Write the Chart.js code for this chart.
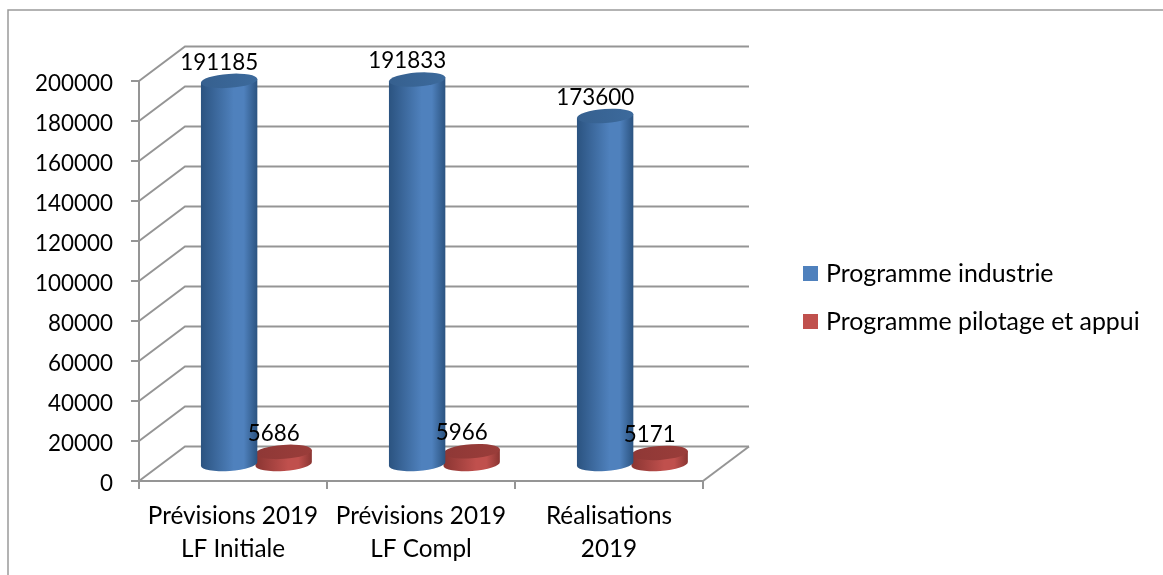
<!DOCTYPE html>
<html>
<head>
<meta charset="utf-8">
<style>html,body{margin:0;padding:0;background:#fff}canvas{display:block}</style>
<script src="https://cdn.jsdelivr.net/npm/chart.js@4/dist/chart.umd.min.js"></script>
</head>
<body>
<canvas id="c" width="1163" height="575"></canvas>
<script>
const categories = [["Prévisions 2019","LF Initiale"],["Prévisions 2019","LF Compl"],["Réalisations","2019"]];
const programmeIndustrie = [191185,191833,173600];
const programmePilotage = [5686,5966,5171];
const seriesNames = ["Programme industrie","Programme pilotage et appui"];
const seriesColors = ["#4f81bd","#c0504d"];
const edgeColors = ["#2b5380","#8a3532"];
const capColors = [["#36608f","#3c6a9c"],["#8f3836","#9a3d3a"]];

const FONT = "22.4px Lato";
const LEGEND_FONT = "24.9px Lato";
const GRID = "#959595";
const DEPTH_X = 46, DEPTH_Y = 34.5;
const TILT = -0.07;

function cylinder(ctx, cx, top, bottom, rx, ry, i){
  const dx = rx*Math.cos(TILT), dy = rx*Math.sin(TILT);
  const g = ctx.createLinearGradient(cx-rx,0,cx+rx,0);
  g.addColorStop(0, edgeColors[i]);
  g.addColorStop(0.58, seriesColors[i]);
  g.addColorStop(0.76, seriesColors[i]);
  g.addColorStop(1, edgeColors[i]);
  ctx.beginPath();
  ctx.moveTo(cx+dx, top+dy);
  ctx.lineTo(cx+dx, bottom+dy);
  ctx.ellipse(cx, bottom, rx, ry, TILT, 0, Math.PI);
  ctx.lineTo(cx-dx, top-dy);
  ctx.closePath();
  ctx.fillStyle = g; ctx.fill();
  const c = ctx.createLinearGradient(cx-rx,0,cx+rx,0);
  c.addColorStop(0, capColors[i][0]); c.addColorStop(1, capColors[i][1]);
  ctx.beginPath();
  ctx.ellipse(cx, top, rx, ry, TILT, 0, Math.PI*2);
  ctx.fillStyle = c; ctx.fill();
}

const scene = {
  id:"scene",
  beforeDraw(chart){
    const ctx = chart.ctx;
    ctx.save();
    ctx.strokeStyle = "#9a9a9a"; ctx.lineWidth = 1.5;
    ctx.beginPath(); ctx.moveTo(8,575); ctx.lineTo(8,10); ctx.lineTo(1163,10); ctx.stroke();
    ctx.restore();
    chart.scales.y.getLabelItems().forEach(it=>{
      if(!it.shifted){ it.options.translation[1] += 2.5; it.shifted = true; }
    });
  },
  beforeDatasetsDraw(chart){
    const ctx = chart.ctx, y = chart.scales.y, a = chart.chartArea;
    ctx.save();
    ctx.strokeStyle = GRID; ctx.lineWidth = 2;
    y.ticks.forEach(t=>{
      const py = y.getPixelForValue(t.value);
      ctx.beginPath();
      ctx.moveTo(a.left,py);
      ctx.lineTo(a.left+DEPTH_X,py-DEPTH_Y);
      ctx.lineTo(a.right+DEPTH_X,py-DEPTH_Y);
      ctx.stroke();
    });
    const py0 = y.getPixelForValue(0);
    ctx.beginPath(); ctx.moveTo(a.right,py0); ctx.lineTo(a.right+DEPTH_X,py0-DEPTH_Y); ctx.stroke();
    ctx.restore();
  },
  beforeDatasetDraw(chart,args){
    const ctx = chart.ctx, meta = args.meta;
    ctx.save();
    meta.data.forEach(b=>{
      const cx = b.x + DEPTH_X/2 + 0.4, rx = b.width/2 + 1, ry = 7;
      cylinder(ctx, cx, b.y-DEPTH_Y/2-0.5, b.base-DEPTH_Y/2+1.2, rx, ry, args.index);
    });
    ctx.restore();
    return false;
  },
  afterDatasetsDraw(chart){
    const ctx = chart.ctx;
    ctx.save();
    ctx.font = FONT; ctx.fillStyle = "#000"; ctx.textAlign = "center"; ctx.textBaseline = "middle";
    chart.data.datasets.forEach((ds,i)=>{
      chart.getDatasetMeta(i).data.forEach((b,j)=>{
        ctx.fillText(String(ds.data[j]), b.x + DEPTH_X/2 - 9.5, b.y - DEPTH_Y/2 - 19);
      });
    });
    ctx.textAlign = "left";
    ctx.font = LEGEND_FONT;
    chart.data.datasets.forEach((ds,i)=>{
      const yy = 273.5 + i*48;
      ctx.fillStyle = ds.backgroundColor;
      ctx.fillRect(803, yy-7.5, 15, 15);
      ctx.fillStyle = "#000";
      ctx.fillText(ds.label, 826, yy);
    });
    ctx.restore();
  }
};

new Chart(document.getElementById("c"),{
  type:"bar",
  data:{labels:categories,datasets:[
    {label:seriesNames[0],data:programmeIndustrie,backgroundColor:seriesColors[0]},
    {label:seriesNames[1],data:programmePilotage,backgroundColor:seriesColors[1]}
  ]},
  options:{
    responsive:false,animation:false,
    categoryPercentage:0.58,barPercentage:1,
    layout:{padding:{left:0,right:460,top:81,bottom:0}},
    plugins:{legend:{display:false},tooltip:{enabled:false}},
    scales:{
      x:{
        grid:{drawOnChartArea:false,color:GRID,lineWidth:2,tickLength:8},
        border:{color:GRID,width:2},
        ticks:{font:{family:"Lato",size:24.3,lineHeight:1.36},color:"#000",padding:11,maxRotation:0,autoSkip:false},
        afterFit(s){s.height=94;}
      },
      y:{
        min:0,max:200000,
        grid:{drawOnChartArea:false,color:GRID,lineWidth:2,tickLength:8},
        border:{color:GRID,width:2},
        ticks:{stepSize:20000,font:{family:"Lato",size:22.4},color:"#000",padding:18,callback:v=>String(v)},
        afterFit(s){s.width=139;}
      }
    }
  },
  plugins:[scene]
});
</script>
</body>
</html>
